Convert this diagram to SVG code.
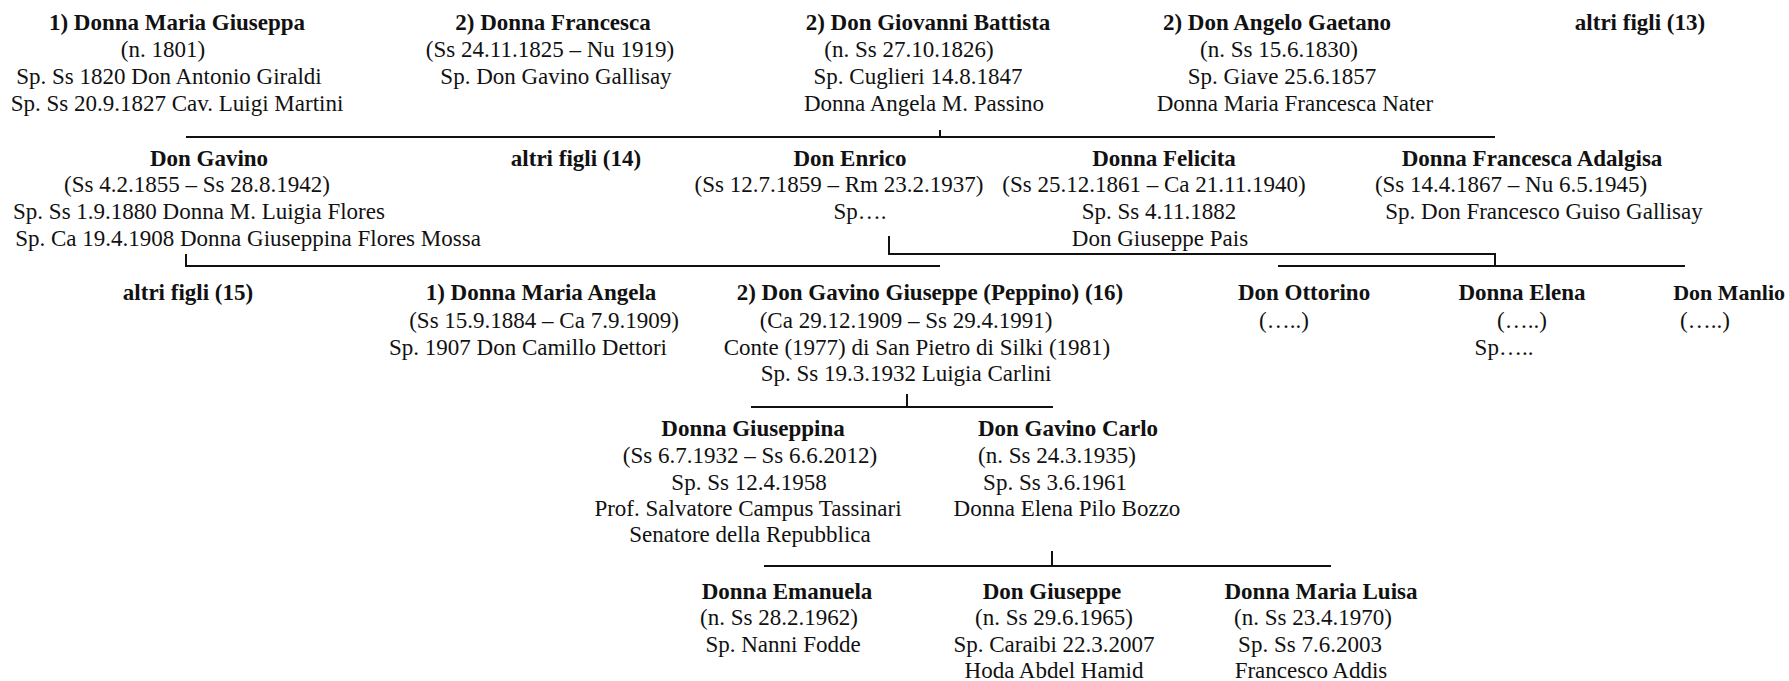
<svg xmlns="http://www.w3.org/2000/svg" width="1789" height="681" viewBox="0 0 1789 681">
<style>
text{font-family:"Liberation Serif","Times New Roman",serif;fill:#111;text-anchor:middle}
.b{font-size:23px;font-weight:bold}
.r{font-size:23px}
.c{fill:none;stroke:#111;stroke-width:2}
</style>
<rect width="1789" height="681" fill="#fff"/>
<g id="connectors" class="c">
<path d="M186 137H1495M940 130V137"/>
<path d="M186 254V266H940"/>
<path d="M889 236V254H1495V266M1278 266H1685"/>
<path d="M907 394V407M751 407H1053"/>
<path d="M1052 551V566M764 566H1331"/>
</g>
<g id="n-maria-giuseppa"><text class="b" x="177" y="30">1) Donna Maria Giuseppa</text><text class="r" x="163" y="57">(n. 1801)</text><text class="r" x="169" y="84">Sp. Ss 1820 Don Antonio Giraldi</text><text class="r" x="177" y="111">Sp. Ss 20.9.1827 Cav. Luigi Martini</text></g>
<g id="n-francesca"><text class="b" x="553" y="30">2) Donna Francesca</text><text class="r" x="550" y="57">(Ss 24.11.1825 – Nu 1919)</text><text class="r" x="556" y="84">Sp. Don Gavino Gallisay</text></g>
<g id="n-giovanni-battista"><text class="b" x="928" y="30">2) Don Giovanni Battista</text><text class="r" x="909" y="57">(n. Ss 27.10.1826)</text><text class="r" x="918" y="84">Sp. Cuglieri 14.8.1847</text><text class="r" x="924" y="111">Donna Angela M. Passino</text></g>
<g id="n-angelo-gaetano"><text class="b" x="1277" y="30">2) Don Angelo Gaetano</text><text class="r" x="1279" y="57">(n. Ss 15.6.1830)</text><text class="r" x="1282" y="84">Sp. Giave 25.6.1857</text><text class="r" x="1295" y="111">Donna Maria Francesca Nater</text></g>
<g id="n-altri-13"><text class="b" x="1640" y="30">altri figli (13)</text></g>
<g id="n-gavino"><text class="b" x="209" y="166">Don Gavino</text><text class="r" x="197" y="192">(Ss 4.2.1855 – Ss 28.8.1942)</text><text class="r" x="199" y="219">Sp. Ss 1.9.1880 Donna M. Luigia Flores</text><text class="r" x="248" y="246">Sp. Ca 19.4.1908 Donna Giuseppina Flores Mossa</text></g>
<g id="n-altri-14"><text class="b" x="576" y="166">altri figli (14)</text></g>
<g id="n-enrico"><text class="b" x="850" y="166">Don Enrico</text><text class="r" x="839" y="192">(Ss 12.7.1859 – Rm 23.2.1937)</text><text class="r" x="860" y="219">Sp….</text></g>
<g id="n-felicita"><text class="b" x="1164" y="166">Donna Felicita</text><text class="r" x="1154" y="192">(Ss 25.12.1861 – Ca 21.11.1940)</text><text class="r" x="1159" y="219">Sp. Ss 4.11.1882</text><text class="r" x="1160" y="246">Don Giuseppe Pais</text></g>
<g id="n-francesca-adalgisa"><text class="b" x="1532" y="166">Donna Francesca Adalgisa</text><text class="r" x="1511" y="192">(Ss 14.4.1867 – Nu 6.5.1945)</text><text class="r" x="1544" y="219">Sp. Don Francesco Guiso Gallisay</text></g>
<g id="n-altri-15"><text class="b" x="188" y="300">altri figli (15)</text></g>
<g id="n-maria-angela"><text class="b" x="541" y="300">1) Donna Maria Angela</text><text class="r" x="544" y="328">(Ss 15.9.1884 – Ca 7.9.1909)</text><text class="r" x="528" y="355">Sp. 1907 Don Camillo Dettori</text></g>
<g id="n-peppino"><text class="b" x="930" y="300">2) Don Gavino Giuseppe (Peppino) (16)</text><text class="r" x="906" y="328">(Ca 29.12.1909 – Ss 29.4.1991)</text><text class="r" x="917" y="355">Conte (1977) di San Pietro di Silki (1981)</text><text class="r" x="906" y="381">Sp. Ss 19.3.1932 Luigia Carlini</text></g>
<g id="n-ottorino"><text class="b" x="1304" y="300">Don Ottorino</text><text class="r" x="1284" y="328">(…..)</text></g>
<g id="n-elena"><text class="b" x="1522" y="300">Donna Elena</text><text class="r" x="1522" y="328">(…..)</text><text class="r" x="1504" y="355">Sp…..</text></g>
<g id="n-manlio"><text class="b" x="1785" y="300" style="text-anchor:end;font-size:22px">Don Manlio</text><text class="r" x="1705" y="328">(…..)</text></g>
<g id="n-giuseppina"><text class="b" x="753" y="436">Donna Giuseppina</text><text class="r" x="750" y="463">(Ss 6.7.1932 – Ss 6.6.2012)</text><text class="r" x="749" y="490">Sp. Ss 12.4.1958</text><text class="r" x="748" y="516">Prof. Salvatore Campus Tassinari</text><text class="r" x="750" y="542">Senatore della Repubblica</text></g>
<g id="n-gavino-carlo"><text class="b" x="1068" y="436">Don Gavino Carlo</text><text class="r" x="1057" y="463">(n. Ss 24.3.1935)</text><text class="r" x="1055" y="490">Sp. Ss 3.6.1961</text><text class="r" x="1067" y="516">Donna Elena Pilo Bozzo</text></g>
<g id="n-emanuela"><text class="b" x="787" y="599">Donna Emanuela</text><text class="r" x="779" y="625">(n. Ss 28.2.1962)</text><text class="r" x="783" y="652">Sp. Nanni Fodde</text></g>
<g id="n-giuseppe"><text class="b" x="1052" y="599">Don Giuseppe</text><text class="r" x="1054" y="625">(n. Ss 29.6.1965)</text><text class="r" x="1054" y="652">Sp. Caraibi 22.3.2007</text><text class="r" x="1054" y="678">Hoda Abdel Hamid</text></g>
<g id="n-maria-luisa"><text class="b" x="1321" y="599">Donna Maria Luisa</text><text class="r" x="1313" y="625">(n. Ss 23.4.1970)</text><text class="r" x="1310" y="652">Sp. Ss 7.6.2003</text><text class="r" x="1311" y="678">Francesco Addis</text></g>
</svg>
